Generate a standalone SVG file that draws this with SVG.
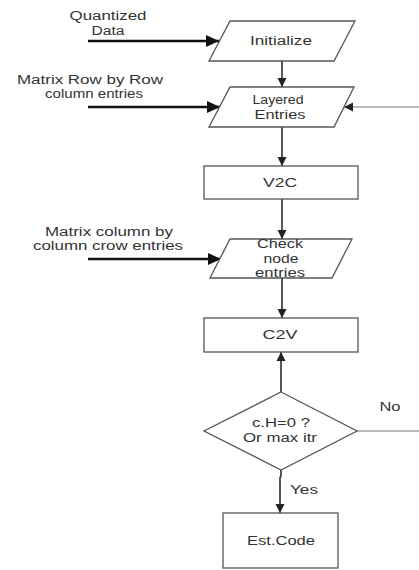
<svg xmlns="http://www.w3.org/2000/svg" width="419" height="570" viewBox="0 0 419 570">
<style>
text{font-family:"Liberation Sans",Arial,sans-serif;font-size:12px;fill:#333;text-anchor:middle}
.sh{fill:#fff;stroke:#555;stroke-width:1.3}
.in{stroke:#111;stroke-width:2.6;fill:none}
.v{stroke:#444;stroke-width:1.8;fill:none}
.fb{stroke:#777;stroke-width:1.2;fill:none}
</style>
<defs>
<marker id="big" markerUnits="userSpaceOnUse" markerWidth="14" markerHeight="12" refX="13" refY="6" orient="auto"><path d="M0,0 L13,6 L0,12 Z" fill="#111"/></marker>
<marker id="sm" markerUnits="userSpaceOnUse" markerWidth="10" markerHeight="10" refX="9" refY="5" orient="auto"><path d="M0,0.5 L9,5 L0,9.5 Z" fill="#222"/></marker>
</defs>
<rect width="419" height="570" fill="#fff"/>
<g id="connectors">
<line class="in" x1="88" y1="41" x2="219" y2="41" marker-end="url(#big)"/>
<line class="in" x1="88" y1="107" x2="220" y2="107" marker-end="url(#big)"/>
<line class="in" x1="88" y1="259" x2="221" y2="259" marker-end="url(#big)"/>
<line class="v" x1="282" y1="61" x2="282" y2="87" marker-end="url(#sm)"/>
<line class="v" x1="282" y1="127" x2="282" y2="166" marker-end="url(#sm)"/>
<line class="v" x1="282" y1="199" x2="282" y2="239" marker-end="url(#sm)"/>
<line class="v" x1="282" y1="278" x2="282" y2="318" marker-end="url(#sm)"/>
<line class="v" x1="281" y1="392" x2="281" y2="352" marker-end="url(#sm)"/>
<polyline class="v" points="281,470 281,476 280,478 280,513" marker-end="url(#sm)"/>
<line class="fb" x1="357" y1="431" x2="419" y2="431"/>
<line class="fb" x1="419" y1="107" x2="344" y2="107" marker-end="url(#sm)"/>
<text x="390" y="411" textLength="21" lengthAdjust="spacingAndGlyphs">No</text>
<text x="304" y="494" textLength="28" lengthAdjust="spacingAndGlyphs">Yes</text>
</g>
<g id="in1">
<text x="108" y="20" textLength="77" lengthAdjust="spacingAndGlyphs">Quantized</text>
<text x="108" y="35" textLength="33" lengthAdjust="spacingAndGlyphs">Data</text>
</g>
<g id="in2">
<text x="90" y="84" textLength="146" lengthAdjust="spacingAndGlyphs">Matrix Row by Row</text>
<text x="94" y="98" textLength="98" lengthAdjust="spacingAndGlyphs">column entries</text>
</g>
<g id="in3">
<text x="109" y="236" textLength="128" lengthAdjust="spacingAndGlyphs">Matrix column by</text>
<text x="108" y="250" textLength="150" lengthAdjust="spacingAndGlyphs">column crow entries</text>
</g>
<g id="initialize">
<polygon class="sh" points="230,21 355,21 334,61 209,61"/>
<text x="281" y="45" textLength="62" lengthAdjust="spacingAndGlyphs">Initialize</text>
</g>
<g id="layered">
<polygon class="sh" points="230,87 354,87 334,127 209,127"/>
<text x="278" y="104" textLength="51" lengthAdjust="spacingAndGlyphs">Layered</text>
<text x="280" y="119" textLength="51" lengthAdjust="spacingAndGlyphs">Entries</text>
</g>
<g id="v2c">
<rect class="sh" x="204" y="166" width="154" height="33"/>
<text x="280" y="187" textLength="34" lengthAdjust="spacingAndGlyphs">V2C</text>
</g>
<g id="check">
<polygon class="sh" points="230,239 352,239 332,278 210,278"/>
<text x="280" y="248" textLength="46" lengthAdjust="spacingAndGlyphs">Check</text>
<text x="281" y="263" textLength="35" lengthAdjust="spacingAndGlyphs">node</text>
<text x="280" y="277" textLength="50" lengthAdjust="spacingAndGlyphs">entries</text>
</g>
<g id="c2v">
<rect class="sh" x="204" y="318" width="154" height="34"/>
<text x="280" y="339" textLength="35" lengthAdjust="spacingAndGlyphs">C2V</text>
</g>
<g id="decision">
<polygon class="sh" points="281,392 357,431 281,470 204,431"/>
<text x="281" y="427" textLength="58" lengthAdjust="spacingAndGlyphs">c.H=0 ?</text>
<text x="280" y="442" textLength="74" lengthAdjust="spacingAndGlyphs">Or max itr</text>
</g>
<g id="estcode">
<rect class="sh" x="223" y="513" width="115" height="55"/>
<text x="281" y="545" textLength="68" lengthAdjust="spacingAndGlyphs">Est.Code</text>
</g>
</svg>
